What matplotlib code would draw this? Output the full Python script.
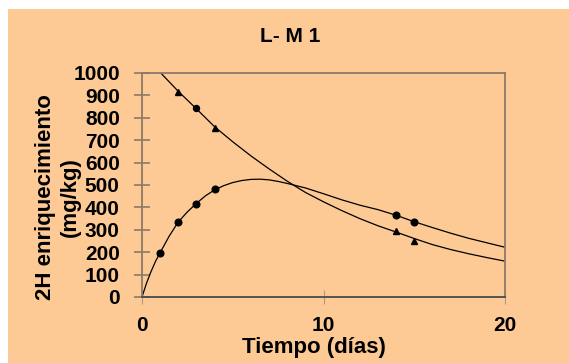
import matplotlib
matplotlib.use('Agg')
import matplotlib.pyplot as plt
from matplotlib.patches import Rectangle

plt.rcParams['font.family'] = ['Liberation Sans', 'DejaVu Sans']
plt.rcParams['font.weight'] = 'bold'

# measured points (days, mg/kg)
circ_dias = [1, 2, 3, 4, 14, 15]
circ_valor = [195, 336, 416, 483, 367, 333]
tri_dias = [2, 4, 14, 15]
tri_valor = [914, 756, 295, 252]
circ_sup_dias = [3]
circ_sup_valor = [842]

# fitted curves
sube_dias = [0, 0.25, 0.5, 0.75, 1, 1.5, 2, 2.5, 3, 3.5, 4, 4.5, 5, 5.5, 6, 6.5, 7, 7.5, 8,
             9, 10, 11, 12, 13, 14, 15, 16, 17, 18, 19, 20]
sube_valor = [0, 62, 114, 160, 198, 272, 335, 380, 418, 452, 478, 497, 511, 520, 525, 526, 523, 516, 507,
              487, 461, 434, 410, 390, 365, 336, 310, 285, 262, 242, 222]
baja_dias = [0, 1, 2, 3, 4, 5, 6, 7, 8, 9, 10, 11, 12, 13, 14, 15, 16, 17, 18, 19, 20]
baja_valor = [1090, 1003, 918, 840, 760, 693, 630, 572, 517, 467, 425, 386, 350, 318, 290, 261, 234, 212, 193, 176, 160]

xticks = [0, 10, 20]
yticks = list(range(0, 1001, 100))

fondo = '#FDCA96'
gris = '#8a7a6a'

fig = plt.figure(figsize=(5.69, 3.63), dpi=100)
fig.patch.set_facecolor('white')
fig.patches.append(Rectangle((8 / 569, 0), 1, 1 - 9 / 363, transform=fig.transFigure,
                             facecolor=fondo, edgecolor='none', zorder=-10))

ax = fig.add_axes([142 / 569, 1 - 297 / 363, 363 / 569, 224 / 363])
ax.set_facecolor(fondo)

ax.plot(sube_dias, sube_valor, color='black', lw=0.9)
ax.plot(baja_dias, baja_valor, color='black', lw=0.9)
ax.plot(circ_dias, circ_valor, 'o', color='black', ms=4.8, ls='none')
ax.plot(circ_sup_dias, circ_sup_valor, 'o', color='black', ms=4.3, ls='none')
ax.plot(tri_dias, tri_valor, '^', color='black', ms=4.8, ls='none')

ax.set_xlim(0, 20)
ax.set_ylim(0, 1000)
ax.set_xticks(xticks)
ax.set_yticks(yticks)

for s in ['left', 'top', 'right']:
    ax.spines[s].set_color(gris)
    ax.spines[s].set_linewidth(1.3)
ax.spines['bottom'].set_color('#4a4a4a')
ax.spines['bottom'].set_linewidth(1.3)

ax.tick_params(axis='y', direction='inout', length=11, width=1.2, color=gris,
               labelsize=15, pad=10.5)
ax.tick_params(axis='x', direction='inout', length=10, width=0.8, color='#b09a86',
               labelsize=15, pad=9)
for lab in ax.get_xticklabels() + ax.get_yticklabels():
    lab.set_fontweight('bold')

fig.text(290 / 569, 1 - 37 / 363, 'L- M 1', ha='center', va='center',
         fontsize=15, fontweight='bold')
fig.text(58 / 569, 1 - 197 / 363, '2H enriquecimiento\n(mg/kg)', rotation=90,
         ha='center', va='center', fontsize=16, fontweight='bold', linespacing=1.25)
fig.text(314 / 569, 1 - 347 / 363, 'Tiempo (días)', ha='center', va='center',
         fontsize=16, fontweight='bold')

plt.savefig('out.png', dpi=100, facecolor=fig.get_facecolor())
